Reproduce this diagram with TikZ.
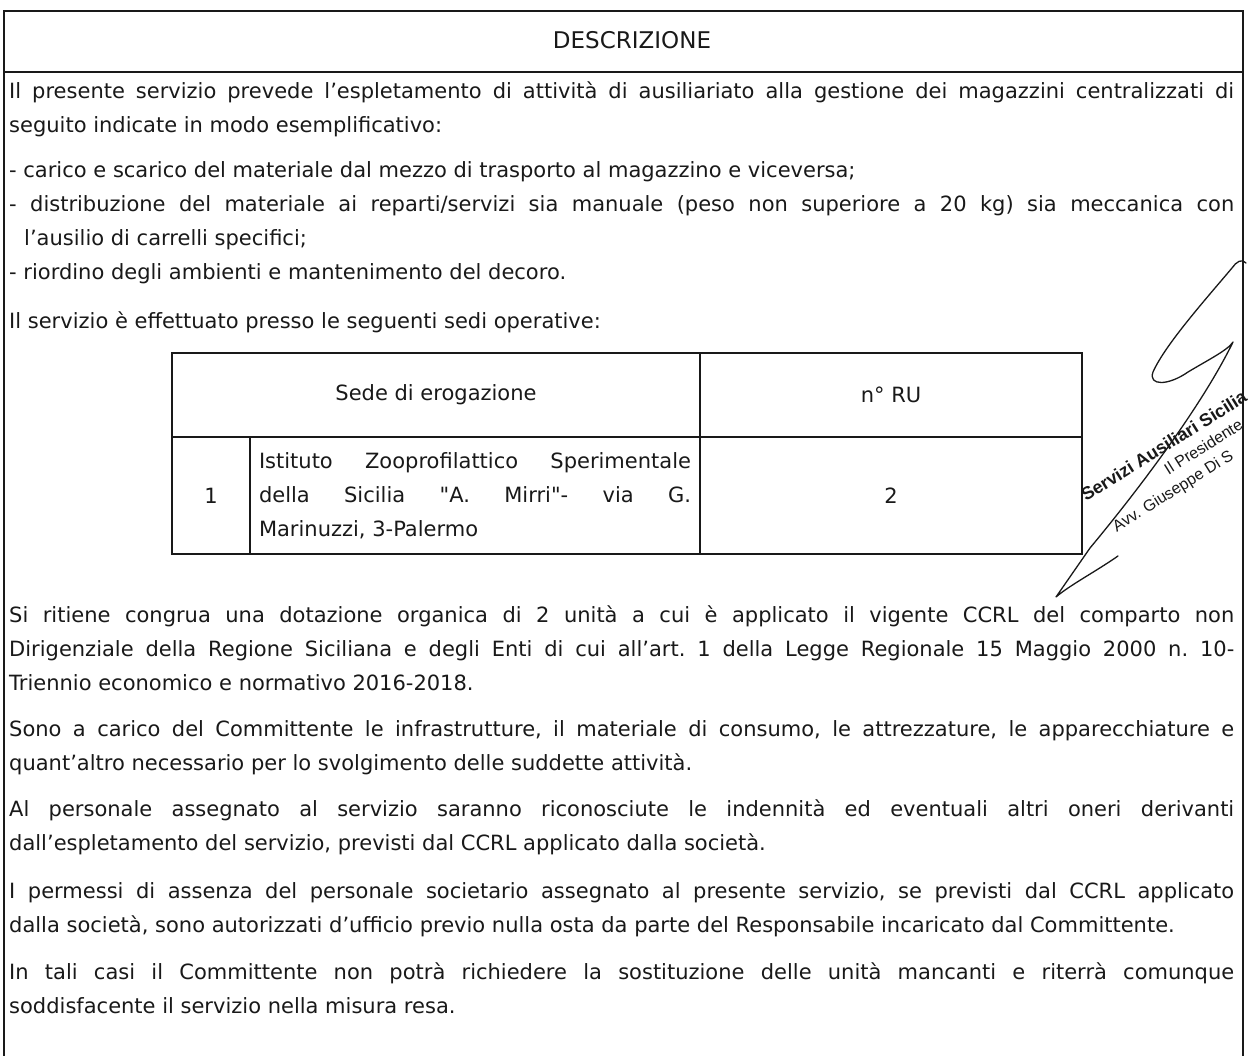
\documentclass[tikz,border=0pt]{standalone}
\usepackage{fontspec}
\newfontfamily\docfont{DejaVu Sans}
\newfontfamily\stampfont{Liberation Sans}
\usepackage{xcolor}
\usepackage{tikz}
\usetikzlibrary{positioning,calc}
\definecolor{ScanInk}{RGB}{25,25,25}
\tikzset{
    bodytext/.style={anchor=base west, inner sep=0pt, text width=1225pt, align=justify, text=ScanInk,
        font=\docfont\fontsize{21}{34}\selectfont,
        execute at begin node={\hyphenpenalty=10000\exhyphenpenalty=10000\tolerance=10000\parindent=0pt\frenchspacing}},
    cellbox/.style={rectangle, draw=ScanInk, line width=1.4pt, inner sep=0pt, outer sep=0pt, text=ScanInk,
        font=\docfont\fontsize{21}{34}\selectfont,
        execute at begin node={\hyphenpenalty=10000\exhyphenpenalty=10000\tolerance=10000\frenchspacing}},
    stampline/.style={anchor=base west, inner sep=0pt, text=ScanInk, transform shape}
}
\begin{document}
\begin{tikzpicture}[x=1pt, y=-1pt,
                % Stile cornice e firma
                frameline/.style={draw=ScanInk, line width=1.5pt},
                signature/.style={
                    draw=ScanInk,
                    line width=1.3pt,
                    line cap=round,
                    line join=round
                }
            ]
                \useasboundingbox (0,0) rectangle (1248,1056);
                \fill[white] (0,0) rectangle (1248,1056);

                % 1. CORNICE E TITOLO
                \draw[frameline] (4,1056) -- (4,11) -- (1243,11) -- (1243,1056);
                \draw[frameline] (4,72) -- (1243,72);
                \node[text=ScanInk, font=\docfont\fontsize{23}{28}\selectfont] (titolo) at (632,40) {DESCRIZIONE};

                % 2. TESTO INIZIALE
                \node[bodytext] (intro) at (9,99) {Il presente servizio prevede l’espletamento di attività di ausiliariato alla gestione dei magazzini centralizzati di\linebreak seguito indicate in modo esemplificativo:};
                \node[bodytext] (elenco) at (9,178) {- carico e scarico del materiale dal mezzo di trasporto al magazzino e viceversa;\par
                    \hangindent=15pt\hangafter=1 - distribuzione del materiale ai reparti/servizi sia manuale (peso non superiore a 20 kg) sia meccanica con\linebreak l’ausilio di carrelli specifici;\par
                    - riordino degli ambienti e mantenimento del decoro.};
                \node[bodytext] (sedi) at (9,329) {Il servizio è effettuato presso le seguenti sedi operative:};

                % 3. TABELLA
                \node[cellbox, minimum width=528pt, minimum height=84pt, anchor=north west] (sede) at (172,353) {Sede di erogazione};
                \node[cellbox, minimum width=382pt, minimum height=84pt, right=0pt of sede] (nru) {n° RU};
                \node[cellbox, minimum width=78pt, minimum height=117pt, below=0pt of sede.south west, anchor=north west] (numero) {1};
                \node[cellbox, minimum width=450pt, minimum height=117pt, text width=432pt, align=justify, right=0pt of numero] (istituto) {Istituto Zooprofilattico Sperimentale\linebreak della Sicilia "A. Mirri"- via G.\linebreak Marinuzzi, 3-Palermo};
                \node[cellbox, minimum width=382pt, minimum height=117pt, right=0pt of istituto] (unita) {2};

                % 4. ALTRI PARAGRAFI
                \node[bodytext] (dotazione) at (9,622) {Si ritiene congrua una dotazione organica di 2 unità a cui è applicato il vigente CCRL del comparto non\linebreak Dirigenziale della Regione Siciliana e degli Enti di cui all’art. 1 della Legge Regionale 15 Maggio 2000 n. 10-\linebreak Triennio economico e normativo 2016-2018.};
                \node[bodytext] (carico) at (9,736) {Sono a carico del Committente le infrastrutture, il materiale di consumo, le attrezzature, le apparecchiature e\linebreak quant’altro necessario per lo svolgimento delle suddette attività.};
                \node[bodytext] (indennita) at (9,816) {Al personale assegnato al servizio saranno riconosciute le indennità ed eventuali altri oneri derivanti\linebreak dall’espletamento del servizio, previsti dal CCRL applicato dalla società.};
                \node[bodytext] (permessi) at (9,898) {I permessi di assenza del personale societario assegnato al presente servizio, se previsti dal CCRL applicato\linebreak dalla società, sono autorizzati d’ufficio previo nulla osta da parte del Responsabile incaricato dal Committente.};
                \node[bodytext] (sostituzione) at (9,979) {In tali casi il Committente non potrà richiedere la sostituzione delle unità mancanti e riterrà comunque\linebreak soddisfacente il servizio nella misura resa.};

                % 5. TIMBRO E FIRMA
                \begin{scope}
                    \clip (0,0) rectangle (1248,1056);
                    \begin{scope}[shift={(1086,502)}, rotate=32]
                        \node[stampline, font=\stampfont\bfseries\fontsize{18}{18}\selectfont] (timbro) at (0,0) {Servizi Ausiliari Sicilia};
                        \node[stampline, font=\stampfont\fontsize{16}{16}\selectfont] (presidente) at (84,21) {Il Presidente};
                        \node[stampline, font=\stampfont\fontsize{16}{16}\selectfont] (avvocato) at (10,42) {Avv. Giuseppe Di S};
                    \end{scope}
                    % tratto della firma
                    \draw[signature] (1246,263) .. controls (1242,258) and (1236,262) .. (1232,268)
                        .. controls (1205,300) and (1165,345) .. (1153,372)
                        .. controls (1148,386) and (1168,386) .. (1188,372)
                        .. controls (1208,360) and (1228,350) .. (1233,342)
                        .. controls (1200,410) and (1130,500) .. (1090,548)
                        -- (1056,597)
                        .. controls (1070,585) and (1095,572) .. (1118,556);
                \end{scope}
            \end{tikzpicture}
\end{document}
